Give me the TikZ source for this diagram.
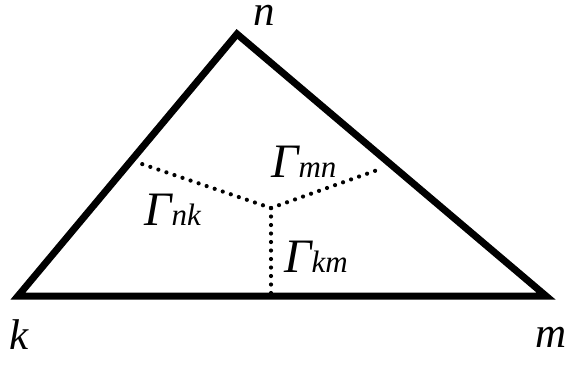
\documentclass[tikz,border=0pt]{standalone}
\usepackage{fontspec}
\setmainfont{Liberation Serif}[ItalicFont={Liberation Serif Italic}]
\newcommand{\vlab}[1]{{\fontsize{43}{43}\selectfont\itshape #1}}
\newcommand{\glab}[1]{{\fontsize{48}{48}\selectfont\itshape Γ}{\fontsize{31}{31}\selectfont\itshape #1}}
\tikzset{
  edgeline/.style={line width=7pt, line join=miter},
  dotline/.style={line width=4.2pt, line cap=round, dash pattern=on 0pt off 8.5pt},
  lab/.style={inner sep=0pt, anchor=base west}
}
\begin{document}
\begin{tikzpicture}[x=1pt,y=-1pt]
\useasboundingbox (0,0) rectangle (571,368);
\coordinate (K) at (18,296);
\coordinate (N) at (237,34);
\coordinate (M) at (546,296);
\coordinate (C) at (271,208);
\coordinate (L) at (139,163);
\coordinate (R) at (383,168);
\coordinate (B) at (271,299);
\draw[edgeline] (K) -- (N) -- (M) -- cycle;
\draw[dotline] (C) -- (L);
\draw[dotline] (C) -- (R);
\draw[dotline] (C) -- (B);
\node[lab] (ln) at (253,25) {\vlab{n}};
\node[lab] (lk) at (9,349) {\vlab{k}};
\node[lab] (lm) at (535,347) {\vlab{m}};
\node[lab] (gmn) at (271,177) {\glab{mn}};
\node[lab] (gnk) at (144,225) {\glab{nk}};
\node[lab] (gkm) at (284,272) {\glab{km}};
\end{tikzpicture}
\end{document}
